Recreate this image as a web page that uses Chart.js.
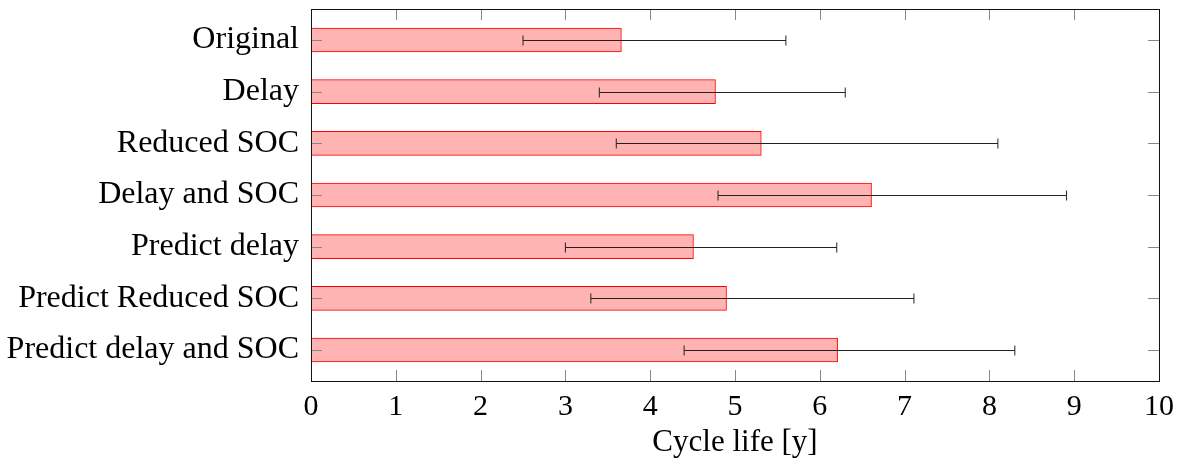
<!DOCTYPE html>
<html>
<head>
<meta charset="utf-8">
<script src="https://cdn.jsdelivr.net/npm/chart.js@4.4.0/dist/chart.umd.min.js"></script>
<style>
  html, body { margin: 0; padding: 0; background: #fff; }
  #wrap { width: 1183px; height: 463px; }
</style>
</head>
<body>
<div id="wrap"><canvas id="bar-chart"></canvas></div>
<script>
// cycle life per strategy, with low / high of the error bar
var strategies = ["Original", "Delay", "Reduced SOC", "Delay and SOC",
    "Predict delay", "Predict Reduced SOC", "Predict delay and SOC"];
var cycleLife = [3.66, 4.77, 5.31, 6.61, 4.51, 4.90, 6.21];
var errLow = [2.50, 3.40, 3.60, 4.80, 3.00, 3.30, 4.40];
var errHigh = [5.60, 6.30, 8.10, 8.91, 6.20, 7.11, 8.30];
var xTicks = [0, 1, 2, 3, 4, 5, 6, 7, 8, 9, 10];

var serif = "'Liberation Serif', 'Times New Roman', serif";

// error bars drawn on top of the bars
var errorBars = {
    id: 'errorBars',
    afterDatasetsDraw: function (chart) {
        var ctx = chart.ctx;
        var xs = chart.scales.x, ys = chart.scales.y;
        ctx.save();
        ctx.strokeStyle = '#222';
        ctx.lineWidth = 1;
        for (var i = 0; i < strategies.length; i++) {
            var y = Math.round(ys.getPixelForValue(i)) + 0.5;
            var x1 = xs.getPixelForValue(errLow[i]);
            var x2 = xs.getPixelForValue(errHigh[i]);
            ctx.beginPath();
            ctx.moveTo(x1, y); ctx.lineTo(x2, y);
            ctx.moveTo(x1, y - 5); ctx.lineTo(x1, y + 5);
            ctx.moveTo(x2, y - 5); ctx.lineTo(x2, y + 5);
            ctx.stroke();
        }
        ctx.restore();
    }
};

// frame + inward ticks like pgfplots
var frame = {
    id: 'frame',
    afterDraw: function (chart) {
        var ctx = chart.ctx, a = chart.chartArea;
        var xs = chart.scales.x, ys = chart.scales.y;
        ctx.save();
        ctx.strokeStyle = '#888';
        ctx.lineWidth = 1;
        ctx.beginPath();
        xTicks.forEach(function (v) {
            var x = Math.round(xs.getPixelForValue(v)) + 0.5;
            ctx.moveTo(x, a.top); ctx.lineTo(x, a.top + 11);
            ctx.moveTo(x, a.bottom); ctx.lineTo(x, a.bottom - 11);
        });
        strategies.forEach(function (s, i) {
            var y = Math.round(ys.getPixelForValue(i)) + 0.5;
            ctx.moveTo(a.left, y); ctx.lineTo(a.left + 11, y);
            ctx.moveTo(a.right, y); ctx.lineTo(a.right - 11, y);
        });
        ctx.stroke();
        ctx.strokeStyle = '#111';
        ctx.strokeRect(Math.round(a.left) + 0.5, Math.round(a.top) + 0.5,
            Math.round(a.right - a.left), Math.round(a.bottom - a.top));
        ctx.restore();
    }
};

new Chart(document.getElementById("bar-chart"), {
    type: 'bar',
    data: {
        datasets: [
            {
                label: "Cycle life",
                backgroundColor: "#ffb3b3",
                borderColor: "#ff0000",
                borderWidth: 1,
                barThickness: 24,
                data: cycleLife.map(function (v, i) { return { x: v, y: i }; })
            }
        ]
    },
    plugins: [errorBars, frame],
    options: {
        indexAxis: 'y',
        responsive: true,
        maintainAspectRatio: false,
        animation: false,
        layout: { padding: { left: 0, right: 24, top: 9, bottom: 0 } },
        plugins: {
            legend: { display: false },
            tooltip: { enabled: false }
        },
        scales: {
            x: {
                type: 'linear',
                min: 0,
                max: 10,
                afterBuildTicks: function (scale) {
                    scale.ticks = xTicks.map(function (v) { return { value: v }; });
                },
                afterFit: function (scale) {
                    scale.height = 82;
                    scale.paddingLeft = 0;
                    scale.paddingRight = 0;
                },
                grid: { display: false, drawTicks: false },
                border: { display: false },
                ticks: {
                    padding: 8,
                    color: '#000',
                    font: { family: serif, size: 30 }
                },
                title: {
                    display: true,
                    text: 'Cycle life [y]',
                    color: '#000',
                    padding: { top: 0, bottom: 2 },
                    font: { family: serif, size: 31 }
                }
            },
            y: {
                type: 'linear',
                offset: false,
                min: -0.6,
                max: 6.6,
                reverse: true,
                afterBuildTicks: function (scale) {
                    scale.ticks = strategies.map(function (s, i) { return { value: i }; });
                },
                afterFit: function (scale) {
                    scale.width = 311;
                    scale.paddingTop = 0;
                    scale.paddingBottom = 0;
                },
                grid: { display: false, drawTicks: false },
                border: { display: false },
                ticks: {
                    padding: 12,
                    color: '#000',
                    font: { family: serif, size: 32 },
                    callback: function (v) { return strategies[v]; }
                }
            }
        }
    }
});
</script>
</body>
</html>
